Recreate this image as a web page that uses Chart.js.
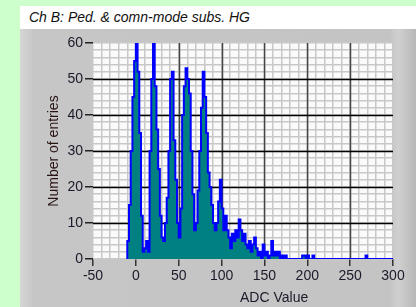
<!DOCTYPE html>
<html>
<head>
<meta charset="utf-8">
<script src="https://cdn.jsdelivr.net/npm/chart.js@4"></script>
<style>
  html, body { margin: 0; padding: 0; background: #ccffcc; width: 416px; height: 307px; overflow: hidden; }
  #titre { position: absolute; left: 20px; top: 6px; width: 396px; height: 23px; background: #ffffff;
           font: italic 14px "Liberation Sans", sans-serif; color: #111; line-height: 23px; padding-left: 9px; box-sizing: border-box; }
  #painel { position: absolute; left: 20px; top: 29px; width: 396px; height: 278px;
            background: linear-gradient(to right, #d6d6d6 0px, #c6c6c6 14px, #c4c4c4 370px, #d0d0d0 378px, #b8b8b8 396px); }
  #xtitulo { position: absolute; left: 240px; top: 289px; font: 14px "Liberation Sans", sans-serif; color: #1a1a2a; }
  canvas { position: absolute; left: 0; top: 0; }
</style>
</head>
<body>
<div id="titre">Ch B: Ped. &amp; comn-mode subs. HG</div>
<div id="painel"></div>
<canvas id="grafico" width="416" height="307"></canvas>
<div id="xtitulo">ADC Value</div>
<script>
// histograma: borda esquerda de cada bin (ADC) e contagens
const binInicio = [];
for (let x = -10; x <= 300; x += 2) binInicio.push(x);

const contagens = [
  0, 5, 15, 30, 45, 55, 62, 52, 35, 12,    // -10 .. 8
  2, 3, 5, 2, 30, 50, 62, 48, 36, 25,      // 10 .. 28
  12, 6, 5, 10, 17, 30, 50, 52, 33, 22,    // 30 .. 48
  10, 6, 14, 40, 48, 53, 50, 46, 30, 18,   // 50 .. 68
  8, 10, 19, 30, 42, 52, 45, 35, 24, 20,   // 70 .. 88
  15, 10, 8, 10, 16, 22, 14, 8, 12, 8,     // 90 .. 108
  6, 3, 7, 5, 8, 6, 11, 8, 5, 7,           // 110 .. 128
  4, 3, 5, 2, 4, 6, 3, 1, 2, 0,            // 130 .. 148
  4, 1, 2, 0, 1, 5, 1, 2, 1, 2,            // 150 .. 168
  0, 1, 0, 1, 0, 0, 0, 0, 0, 0,            // 170 .. 188
  0, 0, 0, 1, 1, 0, 1, 0, 0, 1,            // 190 .. 208
  0, 0, 0, 0, 0, 0, 0, 0, 0, 0,            // 210 .. 228
  0, 0, 0, 0, 0, 0, 0, 0, 0, 0,            // 230 .. 248
  0, 0, 0, 0, 0, 0, 0, 0, 0, 0,            // 250 .. 268
  1, 0, 0, 0, 0, 0, 0, 0, 0, 0,            // 270 .. 288
  0, 0, 0, 0, 0, 0                         // 290 .. 300
];

const xTicks = [-50, 0, 50, 100, 150, 200, 250, 300];
const yTicks = [0, 10, 20, 30, 40, 50, 60];

const pontos = binInicio.map((x, i) => ({ x: x, y: contagens[i] || 0 }));

const fundoPlot = {
  id: 'fundoPlot',
  beforeDraw(chart) {
    const a = chart.chartArea;
    const ctx = chart.ctx;
    ctx.save();
    ctx.fillStyle = '#fafafa';
    ctx.fillRect(a.left, a.top, a.right - a.left, a.bottom - a.top);
    ctx.restore();
  },
  // linhas principais por cima da grade fina, por baixo dos dados
  beforeDatasetsDraw(chart) {
    const a = chart.chartArea;
    const ctx = chart.ctx;
    const sx = chart.scales.x, sy = chart.scales.y;
    ctx.save();
    ctx.lineWidth = 1.5;
    ctx.strokeStyle = '#444444';
    xTicks.slice(1, -1).forEach(v => {
      const p = Math.round(sx.getPixelForValue(v)) + 0.5;
      ctx.beginPath(); ctx.moveTo(p, a.top); ctx.lineTo(p, a.bottom); ctx.stroke();
    });
    ctx.strokeStyle = '#000000';
    yTicks.slice(1, -1).forEach(v => {
      const p = Math.round(sy.getPixelForValue(v)) + 0.5;
      ctx.beginPath(); ctx.moveTo(a.left, p); ctx.lineTo(a.right, p); ctx.stroke();
    });
    ctx.restore();
  }
};

const ctx = document.getElementById('grafico').getContext('2d');
new Chart(ctx, {
  type: 'line',
  data: {
    datasets: [{
      data: pontos,
      stepped: 'after',
      borderColor: '#0000ff',
      borderWidth: 2,
      backgroundColor: '#008080',
      fill: 'origin',
      pointRadius: 0
    }]
  },
  options: {
    responsive: false,
    animation: false,
    events: [],
    layout: { padding: { top: 43, right: 23, left: 44, bottom: 0 } },
    plugins: { legend: { display: false }, tooltip: { enabled: false } },
    scales: {
      x: {
        type: 'linear',
        min: -50, max: 300,
        afterFit(s) { s.height = 48; },
        afterBuildTicks(s) { s.ticks = []; for (let v = -50; v <= 300; v += 10) s.ticks.push({ value: v }); },
        ticks: {
          autoSkip: false, maxRotation: 0, color: '#1a1a2a', padding: 2,
          font: { family: 'Liberation Sans', size: 14 },
          callback: v => xTicks.includes(v) ? String(v) : ''
        },
        grid: {
          color: '#c8c8c8',
          lineWidth: 1.5,
          tickColor: c => (c.tick && c.tick.value % 50 === 0) ? '#333333' : 'rgba(0,0,0,0)',
          tickLength: 7, tickWidth: 1.5
        },
        border: { display: false }
      },
      y: {
        min: 0, max: 60,
        afterFit(s) { s.width = 49; },
        afterBuildTicks(s) { s.ticks = []; for (let v = 0; v <= 60; v += 2) s.ticks.push({ value: v }); },
        title: { display: true, text: 'Number of entries', color: '#2a1414',
                 font: { family: 'Liberation Sans', size: 14 }, padding: { top: 2, bottom: 0 } },
        ticks: {
          autoSkip: false, color: '#1a1a2a', padding: 2,
          font: { family: 'Liberation Sans', size: 14 },
          callback: v => yTicks.includes(v) ? String(v) : ''
        },
        grid: {
          color: '#c8c8c8',
          lineWidth: 1.5,
          tickColor: c => (c.tick && c.tick.value % 10 === 0) ? '#222222' : 'rgba(0,0,0,0)',
          tickLength: 8, tickWidth: 1.5
        },
        border: { display: false }
      }
    }
  },
  plugins: [fundoPlot]
});
</script>
</body>
</html>
